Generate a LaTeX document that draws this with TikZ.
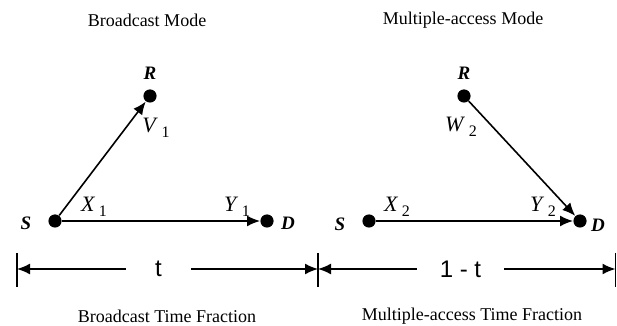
\documentclass[tikz,border=0pt]{standalone}
\usepackage{fontspec}
\setmainfont{Liberation Serif}
\newfontfamily\arialfont{Liberation Sans}
\usetikzlibrary{arrows.meta}
\newcommand{\vsub}[2]{\textit{#1}\,\raisebox{-0.45ex}{\fontsize{8}{9}\selectfont #2}}
\tikzset{
  dot/.style={circle,fill=black,inner sep=0pt,minimum size=6.6pt},
  arr/.style={line width=0.8pt,-{Latex[length=6.5pt,width=5.5pt]}},
  title/.style={font=\fontsize{9}{11}\selectfont},
  nlab/.style={font=\fontsize{9.5}{11}\selectfont\bfseries\itshape},
  vlab/.style={font=\fontsize{11}{13}\selectfont},
  tlab/.style={font=\arialfont\fontsize{12}{14}\selectfont,inner sep=0pt},
  tick/.style={line width=0.7pt}
}
\begin{document}
\begin{tikzpicture}[x=0.5pt,y=-0.5pt]
\useasboundingbox (0,0) rectangle (617,326);
% titles
\node[title] (t1) at (147,20) {Broadcast Mode};
\node[title] (t2) at (463,20) {Multiple-access Mode};
% left diagram
\node[dot] (S1) at (55,221) {};
\node[dot] (R1) at (150,96) {};
\node[dot] (D1) at (267,221) {};
\node[nlab] (lR1) at (150,73) {R};
\node[nlab] (lS1) at (26,223) {S};
\node[nlab] (lD1) at (288,223) {D};
\draw[arr] (S1) -- (R1);
\draw[arr] (S1) -- (D1);
\node[vlab] (V1) at (156,128) {\vsub{V}{1}};
\node[vlab] (X1) at (94,207) {\vsub{X}{1}};
\node[vlab] (Y1) at (237,207) {\vsub{Y}{1}};
% right diagram
\node[dot] (S2) at (369,221) {};
\node[dot] (R2) at (464,96) {};
\node[dot] (D2) at (580,221) {};
\node[nlab] (lR2) at (464,73) {R};
\node[nlab] (lS2) at (340,224) {S};
\node[nlab] (lD2) at (598,225) {D};
\draw[arr] (R2) -- (D2);
\draw[arr] (S2) -- (D2);
\node[vlab] (W2) at (461,127) {\vsub{W}{2}};
\node[vlab] (X2) at (397,207) {\vsub{X}{2}};
\node[vlab] (Y2) at (543,207) {\vsub{Y}{2}};
% time axis
\coordinate (T0) at (17,269);
\coordinate (T1) at (318,269);
\coordinate (T2) at (615.5,269);
\draw[tick] (17,253) -- (17,287);
\draw[tick] (318,253) -- (318,287);
\draw[tick] (615.5,253) -- (615.5,287);
\node[tlab,minimum width=32.5pt] (tt) at (158.5,269) {t};
\node[tlab,minimum width=43.5pt] (t1mt) at (460.5,269) {1 - t};
\draw[arr] (tt) -- (T0);
\draw[arr] (tt) -- (T1);
\draw[arr] (t1mt) -- (T1);
\draw[arr] (t1mt) -- (T2);
% bottom captions
\node[title] (b1) at (167,316) {Broadcast Time Fraction};
\node[title] (b2) at (472,316) {Multiple-access Time Fraction};
\end{tikzpicture}
\end{document}
